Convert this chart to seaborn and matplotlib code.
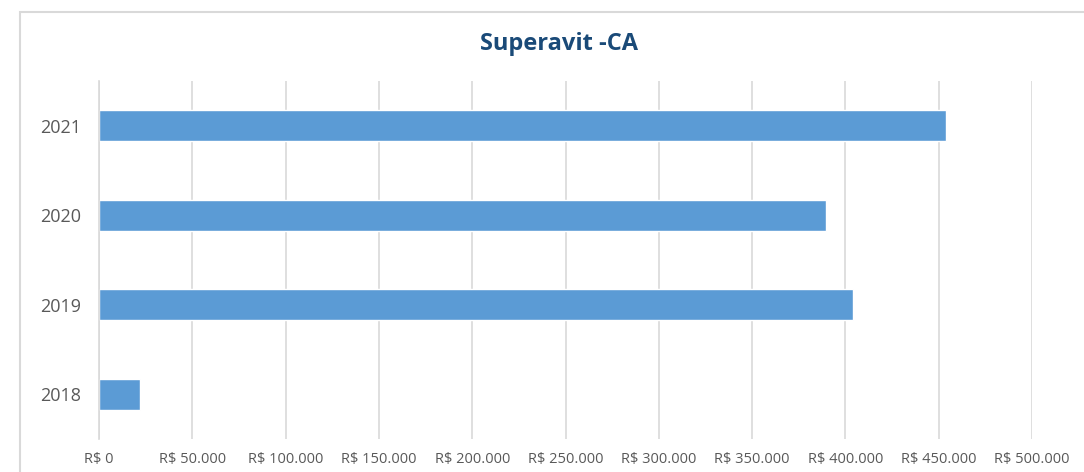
import matplotlib
matplotlib.use("Agg")
import matplotlib.pyplot as plt
import seaborn as sns
import pandas as pd
from matplotlib.patches import Rectangle

# Data
years = ["2021", "2020", "2019", "2018"]
superavit = [454000, 389500, 404000, 22000]
ticks = [0, 50000, 100000, 150000, 200000, 250000, 300000, 350000, 400000, 450000, 500000]
tick_labels = ["R$ 0", "R$ 50.000", "R$ 100.000", "R$ 150.000", "R$ 200.000",
               "R$ 250.000", "R$ 300.000", "R$ 350.000", "R$ 400.000",
               "R$ 450.000", "R$ 500.000"]

df = pd.DataFrame({"Ano": years, "Valor": superavit})

sns.set_theme(style="white")
plt.rcParams["font.family"] = ["Open Sans", "DejaVu Sans"]

W, H = 1084, 472
fig = plt.figure(figsize=(W / 100, H / 100), dpi=100)
ax = fig.add_axes([99 / W, 1 - 439 / H, 933 / W, 358 / H])

# chart frame
fig.patches.append(Rectangle((20 / W, -0.1), 1.2, 1.1 - 12 / H,
                             transform=fig.transFigure, fill=False,
                             edgecolor="#d9d9d9", linewidth=1.5))

sns.barplot(data=df, x="Valor", y="Ano", order=years, orient="h",
            color="#5b9bd5", saturation=1, width=0.35, ax=ax)

ax.set_xlim(0, 500000)
ax.set_ylim(3.5, -0.5)
ax.set_xticks(ticks)
ax.set_xticklabels(tick_labels, fontsize=10.5, color="#595959")
ax.tick_params(axis="y", labelsize=13, labelcolor="#595959", length=0, pad=13)
ax.tick_params(axis="x", length=0, pad=9)
ax.set_xlabel("")
ax.set_ylabel("")

ax.grid(axis="x", color="#d9d9d9", linewidth=1.2)
ax.set_axisbelow(True)
for s in ["top", "right", "bottom"]:
    ax.spines[s].set_visible(False)
ax.spines["left"].set_color("#d9d9d9")
ax.spines["left"].set_linewidth(1.2)

fig.text(559 / W, 1 - 44 / H, "Superavit -CA", ha="center", va="center",
         fontsize=17, fontweight="bold", color="#1a4a78")

fig.savefig("out.png", dpi=100)
